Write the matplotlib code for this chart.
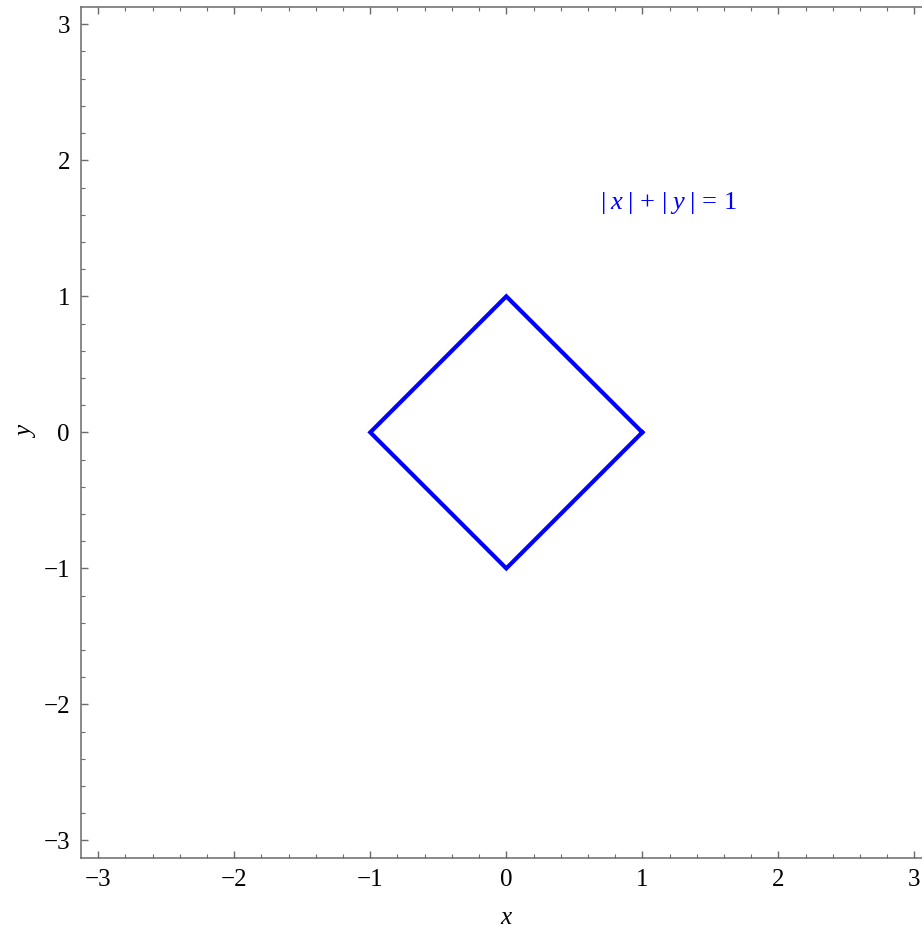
import matplotlib
matplotlib.use("Agg")
import matplotlib.pyplot as plt
from matplotlib.ticker import MultipleLocator

xs = [1, 0, -1, 0, 1]
ys = [0, 1, 0, -1, 0]
ticks = [-3, -2, -1, 0, 1, 2, 3]
tick_labels = ["\u22123", "\u22122", "\u22121", "0", "1", "2", "3"]
label_text = r"$|\;x\;|\,+\,|\;y\;|\,=\,1$"

plt.rcParams['font.family'] = ['Liberation Serif', 'DejaVu Serif']
plt.rcParams['mathtext.fontset'] = 'custom'
plt.rcParams['mathtext.rm'] = 'Liberation Serif'
plt.rcParams['mathtext.it'] = 'Liberation Serif:italic'

fig = plt.figure(figsize=(9.22, 9.32), dpi=100)
ax = fig.add_axes([81/922, (932-857.7)/932, 850.6/922, 850.7/932])

ax.plot(xs, ys, color=(0, 0, 1), lw=3.0, solid_joinstyle='miter')
ax.text(1.19, 1.685, label_text, color=(0, 0, 1), fontsize=19, ha='center', va='center')

ax.set_xlim(-3.127, 3.127)
ax.set_ylim(-3.127, 3.127)
ax.set_xticks(ticks)
ax.set_xticklabels(tick_labels)
ax.set_yticks(ticks)
ax.set_yticklabels(tick_labels)
ax.xaxis.set_minor_locator(MultipleLocator(0.2))
ax.yaxis.set_minor_locator(MultipleLocator(0.2))

spine_col = '#6a6a6a'
for s in ax.spines.values():
    s.set_color(spine_col)
    s.set_linewidth(1.1)
ax.tick_params(which='both', direction='in', top=True, right=True, colors=spine_col,
               labelcolor='black', labelsize=18)
ax.tick_params(which='major', length=5, width=1.0, pad=8)
ax.tick_params(which='minor', length=3, width=0.8)

ax.set_xlabel('x', fontstyle='italic', fontsize=18, labelpad=12)
ax.set_ylabel('y', fontstyle='italic', fontsize=18, labelpad=4)

fig.savefig('out.png', dpi=100)
